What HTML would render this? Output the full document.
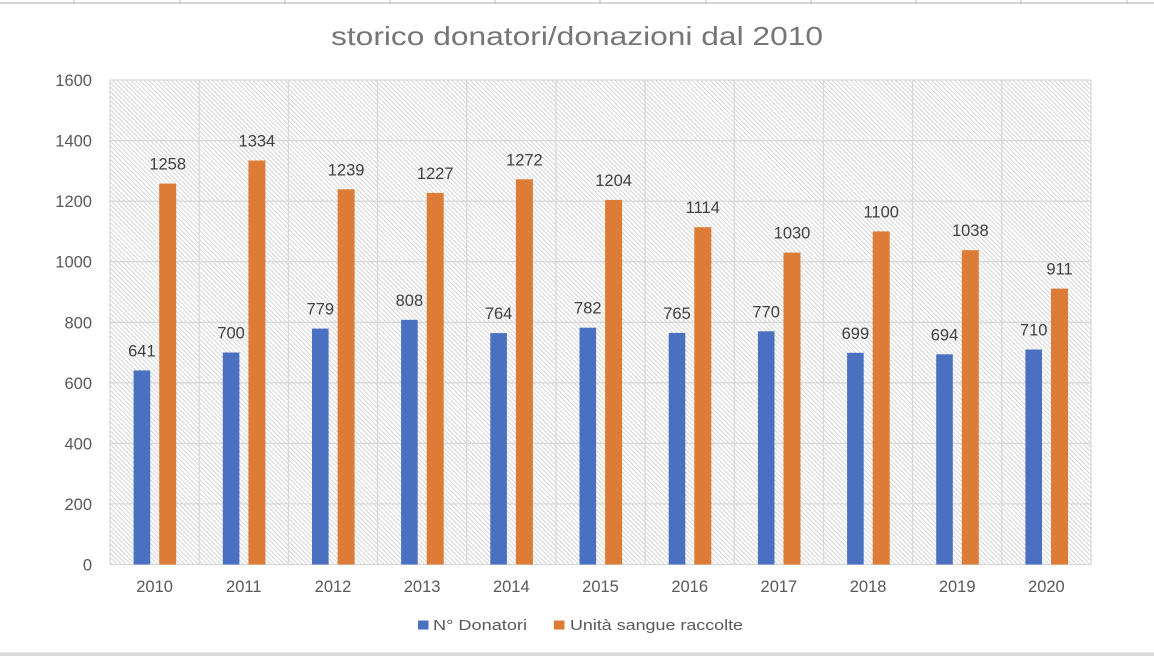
<!DOCTYPE html>
<html><head><meta charset="utf-8"><style>
html,body{margin:0;padding:0;background:#fff;}
svg{display:block;}
text{font-family:"Liberation Sans",sans-serif;}
</style></head><body>
<svg width="1154" height="656" viewBox="0 0 1154 656" xmlns="http://www.w3.org/2000/svg">
<defs>
<pattern id="h" width="3.2" height="3.2" patternUnits="userSpaceOnUse" patternTransform="rotate(-45)">
<rect x="0" y="0" width="3.2" height="3.2" fill="#ffffff"/>
<line x1="0.5" y1="0" x2="0.5" y2="3.2" stroke="#d4d4d4" stroke-width="1"/>
</pattern>
</defs>
<rect width="1154" height="656" fill="#fff"/>
<line x1="0" y1="3" x2="1154" y2="3" stroke="#c8c8c8" stroke-width="1.5"/>
<g stroke="#bdbdbd" stroke-width="1">
<line x1="74" y1="0" x2="74" y2="4"/><line x1="180" y1="0" x2="180" y2="4"/><line x1="285" y1="0" x2="285" y2="4"/><line x1="390" y1="0" x2="390" y2="4"/><line x1="495" y1="0" x2="495" y2="4"/><line x1="600" y1="0" x2="600" y2="4"/><line x1="706" y1="0" x2="706" y2="4"/><line x1="811" y1="0" x2="811" y2="4"/><line x1="916" y1="0" x2="916" y2="4"/><line x1="1021" y1="0" x2="1021" y2="4"/><line x1="1127" y1="0" x2="1127" y2="4"/>
</g>
<rect x="0" y="652.5" width="1154" height="3.5" fill="#d9d9d9"/>

<text x="577" y="45" text-anchor="middle" font-size="26" fill="#767676" textLength="492" lengthAdjust="spacingAndGlyphs">storico donatori/donazioni dal 2010</text>

<rect x="110" y="80" width="981" height="484.5" fill="url(#h)"/>
<g stroke="#d9d9d9" stroke-width="1.3" fill="none">
<line x1="110" y1="80" x2="1091" y2="80"/>
<line x1="110" y1="140.6" x2="1091" y2="140.6"/>
<line x1="110" y1="201.2" x2="1091" y2="201.2"/>
<line x1="110" y1="261.7" x2="1091" y2="261.7"/>
<line x1="110" y1="322.3" x2="1091" y2="322.3"/>
<line x1="110" y1="382.8" x2="1091" y2="382.8"/>
<line x1="110" y1="443.4" x2="1091" y2="443.4"/>
<line x1="110" y1="503.9" x2="1091" y2="503.9"/>
<line x1="110" y1="564.5" x2="1091" y2="564.5"/>
<line x1="110" y1="80" x2="110" y2="564.5"/>
<line x1="199.2" y1="80" x2="199.2" y2="564.5"/>
<line x1="288.4" y1="80" x2="288.4" y2="564.5"/>
<line x1="377.5" y1="80" x2="377.5" y2="564.5"/>
<line x1="466.7" y1="80" x2="466.7" y2="564.5"/>
<line x1="555.9" y1="80" x2="555.9" y2="564.5"/>
<line x1="645.1" y1="80" x2="645.1" y2="564.5"/>
<line x1="734.3" y1="80" x2="734.3" y2="564.5"/>
<line x1="823.5" y1="80" x2="823.5" y2="564.5"/>
<line x1="912.6" y1="80" x2="912.6" y2="564.5"/>
<line x1="1001.8" y1="80" x2="1001.8" y2="564.5"/>
<line x1="1091" y1="80" x2="1091" y2="564.5"/>
</g>

<g font-size="16.5" fill="#595959" text-anchor="end">
<text x="92" y="86">1600</text>
<text x="92" y="146.6">1400</text>
<text x="92" y="207.2">1200</text>
<text x="92" y="267.7">1000</text>
<text x="92" y="328.3">800</text>
<text x="92" y="388.8">600</text>
<text x="92" y="449.4">400</text>
<text x="92" y="509.9">200</text>
<text x="92" y="570.5">0</text>
</g>

<g fill="#4A70C2">
<rect x="133.6" y="370.4" width="16.6" height="194.1"/>
<rect x="222.8" y="352.5" width="16.6" height="212.0"/>
<rect x="312.0" y="328.6" width="16.6" height="235.9"/>
<rect x="401.1" y="319.8" width="16.6" height="244.7"/>
<rect x="490.3" y="333.1" width="16.6" height="231.4"/>
<rect x="579.5" y="327.7" width="16.6" height="236.8"/>
<rect x="668.7" y="332.9" width="16.6" height="231.6"/>
<rect x="757.9" y="331.3" width="16.6" height="233.2"/>
<rect x="847.1" y="352.8" width="16.6" height="211.7"/>
<rect x="936.2" y="354.3" width="16.6" height="210.2"/>
<rect x="1025.4" y="349.5" width="16.6" height="215.0"/>
</g>
<g fill="#DD7C37">
<rect x="159.2" y="183.6" width="17" height="380.9"/>
<rect x="248.4" y="160.5" width="17" height="404.0"/>
<rect x="337.6" y="189.3" width="17" height="375.2"/>
<rect x="426.7" y="192.9" width="17" height="371.6"/>
<rect x="515.9" y="179.3" width="17" height="385.2"/>
<rect x="605.1" y="199.9" width="17" height="364.6"/>
<rect x="694.3" y="227.2" width="17" height="337.3"/>
<rect x="783.5" y="252.6" width="17" height="311.9"/>
<rect x="872.7" y="231.4" width="17" height="333.1"/>
<rect x="961.8" y="250.2" width="17" height="314.3"/>
<rect x="1051.0" y="288.6" width="17" height="275.9"/>
</g>

<g font-size="16.5" fill="#404040" text-anchor="middle">
<text x="141.9" y="356.4">641</text>
<text x="231.1" y="338.5">700</text>
<text x="320.3" y="314.6">779</text>
<text x="409.4" y="305.8">808</text>
<text x="498.6" y="319.1">764</text>
<text x="587.8" y="313.7">782</text>
<text x="677.0" y="318.9">765</text>
<text x="766.2" y="317.3">770</text>
<text x="855.4" y="338.8">699</text>
<text x="944.5" y="340.3">694</text>
<text x="1033.7" y="335.5">710</text>

<text x="167.7" y="169.6">1258</text>
<text x="256.9" y="146.5">1334</text>
<text x="346.1" y="175.3">1239</text>
<text x="435.2" y="178.9">1227</text>
<text x="524.4" y="165.3">1272</text>
<text x="613.6" y="185.9">1204</text>
<text x="702.8" y="213.2">1114</text>
<text x="792.0" y="238.6">1030</text>
<text x="881.2" y="217.4">1100</text>
<text x="970.3" y="236.2">1038</text>
<text x="1059.5" y="274.6">911</text>
</g>

<g font-size="16.5" fill="#595959" text-anchor="middle">
<text x="154.6" y="592">2010</text>
<text x="243.8" y="592">2011</text>
<text x="333.0" y="592">2012</text>
<text x="422.1" y="592">2013</text>
<text x="511.3" y="592">2014</text>
<text x="600.5" y="592">2015</text>
<text x="689.7" y="592">2016</text>
<text x="778.9" y="592">2017</text>
<text x="868.1" y="592">2018</text>
<text x="957.2" y="592">2019</text>
<text x="1046.4" y="592">2020</text>
</g>

<rect x="418" y="620.5" width="10.5" height="9" fill="#4A70C2"/>
<text x="433" y="630" font-size="15" fill="#595959" textLength="94" lengthAdjust="spacingAndGlyphs">N° Donatori</text>
<rect x="554" y="620.5" width="10.5" height="9" fill="#DD7C37"/>
<text x="570" y="630" font-size="15" fill="#595959" textLength="173" lengthAdjust="spacingAndGlyphs">Unità sangue raccolte</text>
</svg>
</body></html>
